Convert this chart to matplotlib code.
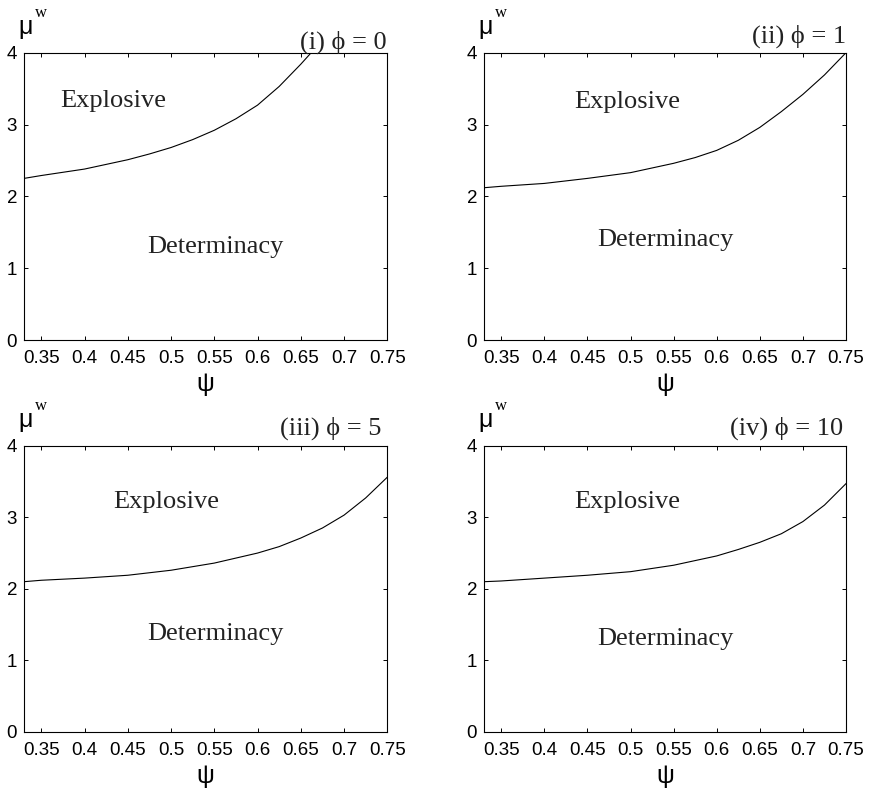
import matplotlib
matplotlib.use("Agg")
import matplotlib.pyplot as plt

# ---- data ----
psi_i = [0.33, 0.35, 0.40, 0.45, 0.475, 0.50, 0.525, 0.55, 0.575, 0.60, 0.625, 0.65, 0.662]
mu_i = [2.25, 2.29, 2.38, 2.51, 2.59, 2.68, 2.79, 2.92, 3.08, 3.27, 3.53, 3.84, 4.00]

psi_ii = [0.33, 0.35, 0.40, 0.45, 0.50, 0.55, 0.575, 0.60, 0.625, 0.65, 0.675, 0.70, 0.725, 0.75]
mu_ii = [2.12, 2.14, 2.18, 2.25, 2.33, 2.46, 2.54, 2.64, 2.78, 2.96, 3.18, 3.42, 3.69, 4.00]

psi_iii = [0.33, 0.35, 0.40, 0.45, 0.50, 0.55, 0.60, 0.625, 0.65, 0.675, 0.70, 0.725, 0.75]
mu_iii = [2.10, 2.12, 2.15, 2.19, 2.26, 2.36, 2.50, 2.59, 2.71, 2.85, 3.03, 3.27, 3.56]

psi_iv = [0.33, 0.35, 0.40, 0.45, 0.50, 0.55, 0.60, 0.625, 0.65, 0.675, 0.70, 0.725, 0.75]
mu_iv = [2.10, 2.11, 2.15, 2.19, 2.24, 2.33, 2.46, 2.55, 2.65, 2.77, 2.94, 3.17, 3.47]

titles = ["(i) \u03d5 = 0", "(ii) \u03d5 = 1", "(iii) \u03d5 = 5", "(iv) \u03d5 = 10"]
xticks = [0.35, 0.40, 0.45, 0.50, 0.55, 0.60, 0.65, 0.70, 0.75]
xticklabels = ["0.35", "0.4", "0.45", "0.5", "0.55", "0.6", "0.65", "0.7", "0.75"]
yticks = [0, 1, 2, 3, 4]
region_top = "Explosive"
region_bottom = "Determinacy"

W, H = 870, 790
fig = plt.figure(figsize=(W / 100, H / 100), dpi=100)

# axes boxes in pixels: (left, top, right, bottom)
boxes = [(24, 52.7, 387.3, 340), (484, 52.7, 846, 340),
         (24, 445.7, 387.3, 732), (484, 445.7, 846, 732)]
series = [(psi_i, mu_i), (psi_ii, mu_ii), (psi_iii, mu_iii), (psi_iv, mu_iv)]
explosive_pos = [(0.433, 3.25), (0.4965, 3.23), (0.494, 3.13), (0.4965, 3.13)]
determ_pos = [(0.551, 1.21), (0.540, 1.31), (0.551, 1.28), (0.540, 1.22)]
# title right end (pixel x) and baseline (pixel y)
title_pos = [(386.7, 48.3), (846, 42.7), (381.7, 435), (843.3, 435)]

serif = ["Liberation Serif", "DejaVu Serif"]
sans = ["Liberation Sans", "DejaVu Sans"]

for k, (l, t, r, b) in enumerate(boxes):
    ax = fig.add_axes([l / W, 1 - b / H, (r - l) / W, (b - t) / H])
    x, y = series[k]
    ax.plot(x, y, color="black", lw=0.8, clip_on=True)
    ax.set_xlim(0.33, 0.75)
    ax.set_ylim(0, 4)
    ax.set_xticks(xticks)
    ax.set_xticklabels(xticklabels)
    ax.set_yticks(yticks)
    ax.tick_params(direction="in", top=True, right=True, length=3, width=0.7,
                   labelsize=13.5, colors="black")
    ax.tick_params(axis="x", pad=7)
    ax.tick_params(axis="y", pad=5)
    for lab in ax.get_xticklabels() + ax.get_yticklabels():
        lab.set_fontfamily(sans)
    for s in ax.spines.values():
        s.set_linewidth(0.8)
    ex, ey = explosive_pos[k]
    ax.text(ex, ey, region_top, ha="center", va="baseline", fontsize=19,
            family=serif, color="#222222")
    dx, dy = determ_pos[k]
    ax.text(dx, dy, region_bottom, ha="center", va="baseline", fontsize=19,
            family=serif, color="#222222")
    # title
    tx, ty = title_pos[k]
    fig.text(tx / W, 1 - ty / H, titles[k], ha="right", va="baseline",
             fontsize=19, family=serif, color="#222222")
    # y label mu^w
    fig.text((l - 6) / W, 1 - (t - 19) / H, "\u03bc", ha="left", va="baseline",
             fontsize=18, family=sans)
    fig.text((l + 11) / W, 1 - (t - 36) / H, "w", ha="left", va="baseline",
             fontsize=12, family=serif)
    # x label psi
    fig.text(((l + r) / 2) / W, 1 - (b + 51) / H, "\u03c8", ha="center",
             va="baseline", fontsize=18, family=sans)

fig.savefig("out.png", dpi=100)
